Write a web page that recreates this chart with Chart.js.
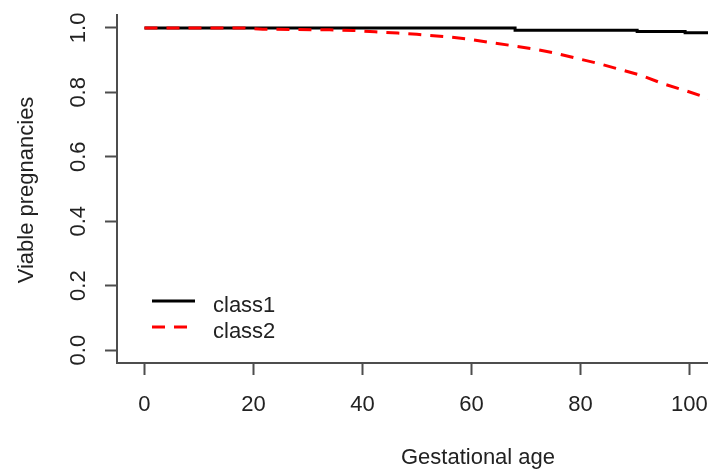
<!DOCTYPE html>
<html>
<head>
<meta charset="utf-8">
<script src="https://cdn.jsdelivr.net/npm/chart.js@4.4.1/dist/chart.umd.min.js"></script>
<style>
  html, body { margin: 0; padding: 0; background: #ffffff; overflow: hidden; }
  canvas { display: block; }
</style>
</head>
<body>
<canvas id="c" width="708" height="472"></canvas>
<script>
// ---- data ----
const seriesNames = ["class1", "class2"];
const xTitle = "Gestational age";
const yTitle = "Viable pregnancies";

const class1X = [0, 68, 90.4, 99.2, 104];
const class1Y = [1.0, 0.993, 0.989, 0.985, 0.985];

const class2X = [0, 18, 21.7, 34, 38.3, 42.3, 46.5, 50, 55.1, 59.2, 63, 67, 71.3, 75.3, 79.4, 83.2, 87.2, 91.3, 95.1, 99.5, 103.2, 104];
const class2Y = [1.0, 1.0, 0.996, 0.994, 0.992, 0.988, 0.984, 0.980, 0.973, 0.966, 0.956, 0.946, 0.935, 0.922, 0.905, 0.890, 0.871, 0.852, 0.827, 0.804, 0.783, 0.779];

const xTicks = [0, 20, 40, 60, 80, 100];
const xTickLabels = ["0", "20", "40", "60", "80", "100"];
const yTicks = [0, 0.2, 0.4, 0.6, 0.8, 1.0];
const yTickLabels = ["0.0", "0.2", "0.4", "0.6", "0.8", "1.0"];

// ---- styling ----
const FONT = "'Liberation Sans', Arial, sans-serif";
const TEXT = "#222222";
const AXIS = "#4d4d4d";

function toPoints(xs, ys) { return xs.map((x, i) => ({ x: x, y: ys[i] })); }

const overlay = {
  id: "overlay",
  afterDraw(chart) {
    const ctx = chart.ctx;
    const xs = chart.scales.x, ys = chart.scales.y;
    const area = chart.chartArea;
    ctx.save();
    ctx.fillStyle = TEXT;
    ctx.font = "22px " + FONT;

    // y tick labels (rotated, reading upward)
    ctx.textAlign = "center";
    ctx.textBaseline = "alphabetic";
    yTicks.forEach((v, i) => {
      const py = ys.getPixelForValue(v);
      ctx.save();
      ctx.translate(85, py);
      ctx.rotate(-Math.PI / 2);
      ctx.fillText(yTickLabels[i], 0, 0);
      ctx.restore();
    });

    // y title
    ctx.save();
    ctx.translate(33, (area.top + area.bottom) / 2 + 1);
    ctx.rotate(-Math.PI / 2);
    ctx.fillText(yTitle, 0, 0);
    ctx.restore();

    // x title (centred on the full original plot region)
    ctx.textAlign = "center";
    ctx.fillText(xTitle, 478, 464);

    // legend
    const lx0 = 152, lx1 = 195;
    const rows = [
      { y: 301, ty: 312, color: "#000000", dash: [] },
      { y: 327, ty: 338, color: "#ff0000", dash: [13, 9] }
    ];
    rows.forEach((r, i) => {
      ctx.save();
      ctx.strokeStyle = r.color;
      ctx.lineWidth = 3;
      ctx.setLineDash(r.dash);
      ctx.beginPath();
      ctx.moveTo(lx0, r.y);
      ctx.lineTo(lx1, r.y);
      ctx.stroke();
      ctx.restore();
      ctx.textAlign = "left";
      ctx.fillText(seriesNames[i], 213, r.ty);
    });
    ctx.restore();
  }
};

new Chart(document.getElementById("c"), {
  type: "line",
  data: {
    datasets: [
      {
        label: seriesNames[0],
        data: toPoints(class1X, class1Y),
        borderColor: "#000000",
        borderWidth: 3,
        pointRadius: 0,
        stepped: "before",
        fill: false,
        order: 1
      },
      {
        label: seriesNames[1],
        data: toPoints(class2X, class2Y),
        borderColor: "#ff0000",
        borderWidth: 3,
        borderDash: [13, 9],
        pointRadius: 0,
        tension: 0,
        fill: false,
        order: 0
      }
    ]
  },
  options: {
    responsive: false,
    animation: false,
    devicePixelRatio: 1,
    parsing: true,
    layout: { padding: { top: 15, left: 0, right: 0, bottom: 0 } },
    plugins: { legend: { display: false }, tooltip: { enabled: false }, title: { display: false } },
    scales: {
      x: {
        type: "linear",
        min: -5.04,
        max: 103.4,
        afterBuildTicks: s => { s.ticks = xTicks.map(v => ({ value: v })); },
        afterFit: s => { s.height = 109; s.paddingLeft = 0; s.paddingRight = 0; },
        ticks: {
          font: { family: FONT, size: 22 },
          color: TEXT,
          padding: 17,
          maxRotation: 0,
          minRotation: 0,
          autoSkip: false,
          callback: (v) => { const i = xTicks.indexOf(v); return i >= 0 ? xTickLabels[i] : ""; }
        },
        grid: { drawOnChartArea: false, drawTicks: true, tickLength: 12, tickColor: AXIS, tickWidth: 2 },
        border: { display: true, color: AXIS, width: 2 }
      },
      y: {
        type: "linear",
        min: -0.04,
        max: 1.04,
        afterBuildTicks: s => { s.ticks = yTicks.map(v => ({ value: v })); },
        afterFit: s => { s.width = 117; s.paddingTop = 0; s.paddingBottom = 0; },
        ticks: { display: false },
        grid: { drawOnChartArea: false, drawTicks: true, tickLength: 12, tickColor: AXIS, tickWidth: 2 },
        border: { display: true, color: AXIS, width: 2 }
      }
    }
  },
  plugins: [overlay]
});
</script>
</body>
</html>
